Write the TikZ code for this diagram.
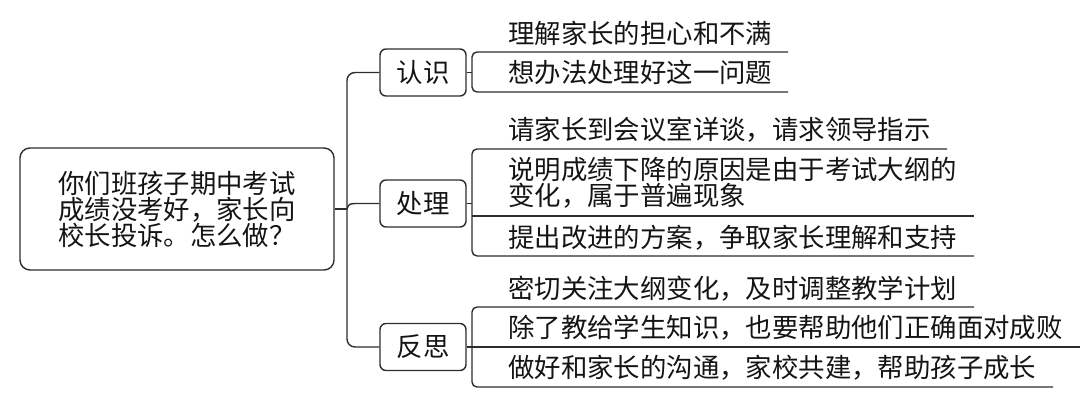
\documentclass[tikz,border=0pt]{standalone}
\usepackage{fontspec}
\newfontfamily\cjk{Noto Sans CJK SC}
\definecolor{ln}{RGB}{45,45,45}
\definecolor{tx}{RGB}{20,20,20}
\tikzset{
  rootbox/.style={draw=ln, line width=1.4pt, rounded corners=10pt, minimum width=314pt, minimum height=122pt, inner sep=0pt, align=left, text=tx, font=\cjk\fontsize{26.4}{26}\selectfont},
  branchbox/.style={draw=ln, line width=1.4pt, rounded corners=6pt, minimum width=86pt, minimum height=47pt, inner sep=0pt, text=tx, font=\cjk\fontsize{26.4}{26}\selectfont},
  leaf/.style={anchor=west, inner sep=0pt, align=left, text=tx, font=\cjk\fontsize{26.4}{26}\selectfont},
  conn/.style={draw=ln, line width=1.4pt},
  bracket/.style={draw=ln, line width=1.4pt, rounded corners=5pt}
}
\begin{document}
\begin{tikzpicture}[x=1pt,y=-1pt]
\useasboundingbox (0,0) rectangle (1088,404);
% root
\node[rootbox] (root) at (177,209) {你们班孩子期中考试\\成绩没考好，家长向\\校长投诉。怎么做？};
% branches
\node[branchbox] (b1) at (423,72.5) {认识};
\node[branchbox] (b2) at (423,203.5) {处理};
\node[branchbox] (b3) at (423,347) {反思};
% trunk
\coordinate (tk) at (347,209);
\coordinate (tk1) at (347,72.5);
\coordinate (tk3) at (347,347);
\draw[conn] (root.east) -- (tk);
\draw[bracket, rounded corners=8pt] (b1.west) -- (tk1) -- (tk3) -- (b3.west);
\draw[conn] (tk) .. controls (349,203.5) .. (360,203.5) -- (b2.west);
% bracket points
\coordinate (br1) at (472,72.5);
\coordinate (br2) at (472,203.5);
\coordinate (br3) at (472,347);
\draw[conn] (b1.east) -- (br1);
\draw[conn] (b2.east) -- (br2);
\draw[conn] (b3.east) -- (br3);
% leaves of 认识
\node[leaf] (c11) at (508,33) {理解家长的担心和不满};
\node[leaf] (c12) at (508,72) {想办法处理好这一问题};
\coordinate (u11) at (788,52);
\coordinate (u12) at (788,92);
\draw[bracket] (u11) -- (u11 -| br1) -- (u12 -| br1) -- (u12);
% leaves of 处理
\node[leaf] (c21) at (508,130) {请家长到会议室详谈，请求领导指示};
\node[leaf] (c22) at (508,183) {说明成绩下降的原因是由于考试大纲的\\变化，属于普遍现象};
\node[leaf] (c23) at (508,238) {提出改进的方案，争取家长理解和支持};
\coordinate (u21) at (947,149);
\coordinate (u22) at (974,216);
\coordinate (u23) at (974,256);
\draw[bracket] (u21) -- (u21 -| br2) -- (u23 -| br2) -- (u23);
\draw[conn] (u22 -| br2) -- (u22);
% leaves of 反思
\node[leaf] (c31) at (508,289) {密切关注大纲变化，及时调整教学计划};
\node[leaf] (c32) at (508,328) {除了教给学生知识，也要帮助他们正确面对成败};
\node[leaf] (c33) at (508,368) {做好和家长的沟通，家校共建，帮助孩子成长};
\coordinate (u31) at (974,307);
\coordinate (u32) at (1080,347);
\coordinate (u33) at (1053,387);
\draw[bracket] (u31) -- (u31 -| br3) -- (u33 -| br3) -- (u33);
\draw[conn] (u32 -| br3) -- (u32);
\end{tikzpicture}
\end{document}
